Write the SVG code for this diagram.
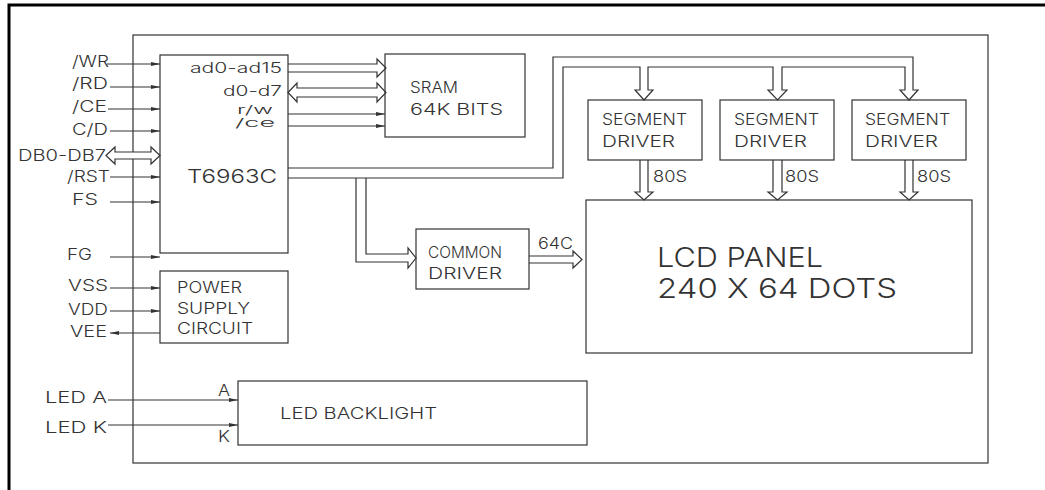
<svg xmlns="http://www.w3.org/2000/svg" width="1045" height="490" viewBox="0 0 1045 490">
<defs>
<style>
.bx{fill:none;stroke:#333;stroke-width:1.2}
.ln{fill:none;stroke:#333;stroke-width:1.2}
.bus{fill:#fff;stroke:#333;stroke-width:1.2;stroke-linejoin:miter}
.t{font-family:Inter,"Liberation Sans",sans-serif;font-weight:300;fill:#333;font-size:16px}
.s{font-size:14px}
.xs{font-size:12px}
.m{font-size:19px}
.l{font-size:27px}
</style>
<marker id="ah" markerUnits="userSpaceOnUse" markerWidth="10" markerHeight="6" refX="9" refY="3" orient="auto">
<path d="M0,1 L9,3 L0,5 Z" fill="#333"/>
</marker>
</defs>
<rect width="1045" height="490" fill="#fff"/>
<path d="M9,490 V5 H1045" fill="none" stroke="#000" stroke-width="3"/>
<rect id="module" x="133" y="35" width="855" height="428" class="bx"/>

<g id="connectors">
<path class="ln" marker-end="url(#ah)" d="M107,64 H160"/>
<path class="ln" marker-end="url(#ah)" d="M110,87 H160"/>
<path class="ln" marker-end="url(#ah)" d="M108,109 H160"/>
<path class="ln" marker-end="url(#ah)" d="M110,131 H160"/>
<path class="bus" d="M106,155.5 L115,147 V152 H151 V147 L160,155.5 L151,164 V159 H115 V164 Z"/>
<path class="ln" marker-end="url(#ah)" d="M110,177 H160"/>
<path class="ln" marker-end="url(#ah)" d="M110,202 H160"/>
<path class="ln" marker-end="url(#ah)" d="M110,257 H160"/>
<path class="ln" marker-end="url(#ah)" d="M110,288 H160"/>
<path class="ln" marker-end="url(#ah)" d="M110,311 H160"/>
<path class="ln" marker-end="url(#ah)" d="M160,333 H110"/>
<path class="ln" marker-end="url(#ah)" d="M108,400 H238"/>
<path class="ln" marker-end="url(#ah)" d="M108,425 H238"/>
<path class="bus" d="M288,64 H377 V59 L386,68 L377,77 V72 H288"/>
<path class="bus" d="M288,92.5 L297,83 V88 H377 V83 L386,92.5 L377,102 V97 H297 V102 Z"/>
<path class="ln" marker-end="url(#ah)" d="M288,114 H385"/>
<path class="ln" marker-end="url(#ah)" d="M288,126 H385"/>
<path class="bus" style="fill:none" d="M288,168 H553 V57 H913 V90 H918 L909,100 L900,90 H905 V67 H782 V90 H787 L777.5,100 L768,90 H773 V67 H648 V90 H653 L644,100 L635,90 H640 V67 H563 V178 H288"/>
<path class="bus" style="fill:none" d="M356,178 V262 H408 V268 L416,258 L408,248 V254 H366 V178"/>
<path class="bus" d="M640,160 V192 H635 L644,200 L653,192 H648 V160"/>
<path class="bus" d="M773,160 V192 H768 L777.5,200 L787,192 H782 V160"/>
<path class="bus" d="M905,160 V192 H900 L909,200 L918,192 H913 V160"/>
<path class="bus" d="M529,256 H573 V251 L582,259.5 L573,268 V263 H529"/>
</g>

<g id="inputs">
<text class="t" x="72" y="67" textLength="37" lengthAdjust="spacingAndGlyphs">/WR</text>
<text class="t" x="72" y="89" textLength="36" lengthAdjust="spacingAndGlyphs">/RD</text>
<text class="t" x="72" y="112" textLength="35" lengthAdjust="spacingAndGlyphs">/CE</text>
<text class="t" x="72" y="135" textLength="36" lengthAdjust="spacingAndGlyphs">C/D</text>
<text class="t" x="18" y="161" textLength="88" lengthAdjust="spacingAndGlyphs">DB0-DB7</text>
<text class="t" x="67" y="182" textLength="43" lengthAdjust="spacingAndGlyphs">/RST</text>
<text class="t" x="72" y="205" textLength="26" lengthAdjust="spacingAndGlyphs">FS</text>
<text class="t" x="67" y="260" textLength="25" lengthAdjust="spacingAndGlyphs">FG</text>
<text class="t" x="68" y="291" textLength="40" lengthAdjust="spacingAndGlyphs">VSS</text>
<text class="t" x="68" y="315" textLength="40" lengthAdjust="spacingAndGlyphs">VDD</text>
<text class="t" x="70" y="337" textLength="37" lengthAdjust="spacingAndGlyphs">VEE</text>
<text class="t" x="45" y="403" textLength="62" lengthAdjust="spacingAndGlyphs">LED A</text>
<text class="t" x="45" y="433" textLength="62" lengthAdjust="spacingAndGlyphs">LED K</text>
</g>

<g id="t6963c">
<rect class="bx" x="160" y="55" width="128" height="198"/>
<text class="t s" x="190" y="73" textLength="92" lengthAdjust="spacingAndGlyphs">ad0-ad15</text>
<text class="t s" x="223" y="96" textLength="59" lengthAdjust="spacingAndGlyphs">d0-d7</text>
<text class="t xs" x="237" y="114" textLength="36" lengthAdjust="spacingAndGlyphs">r/w</text>
<text class="t xs" x="235" y="127" textLength="40" lengthAdjust="spacingAndGlyphs">/ce</text>
<text class="t m" x="187" y="183" textLength="90" lengthAdjust="spacingAndGlyphs">T6963C</text>
</g>

<g id="sram">
<rect class="bx" x="385" y="54" width="140" height="83"/>
<text class="t" x="410" y="93" textLength="48" lengthAdjust="spacingAndGlyphs">SRAM</text>
<text class="t" x="410" y="115" textLength="93" lengthAdjust="spacingAndGlyphs">64K BITS</text>
</g>

<g id="power">
<rect class="bx" x="160" y="271" width="128" height="72"/>
<text class="t" x="177" y="293" textLength="65" lengthAdjust="spacingAndGlyphs">POWER</text>
<text class="t" x="177" y="314" textLength="73" lengthAdjust="spacingAndGlyphs">SUPPLY</text>
<text class="t" x="177" y="334" textLength="76" lengthAdjust="spacingAndGlyphs">CIRCUIT</text>
</g>

<g id="backlight">
<rect class="bx" x="238" y="381" width="349" height="64"/>
<text class="t" x="218" y="396" textLength="12" lengthAdjust="spacingAndGlyphs">A</text>
<text class="t" x="218" y="442" textLength="12" lengthAdjust="spacingAndGlyphs">K</text>
<text class="t" x="280" y="419" textLength="157" lengthAdjust="spacingAndGlyphs">LED BACKLIGHT</text>
</g>

<g id="seg1">
<rect class="bx" x="588" y="100" width="114" height="60"/>
<text class="t" x="602" y="125" textLength="85" lengthAdjust="spacingAndGlyphs">SEGMENT</text>
<text class="t" x="602" y="147" textLength="73" lengthAdjust="spacingAndGlyphs">DRIVER</text>
<text class="t" x="653" y="182" textLength="34" lengthAdjust="spacingAndGlyphs">80S</text>
</g>
<g id="seg2">
<rect class="bx" x="720" y="100" width="114" height="60"/>
<text class="t" x="734" y="125" textLength="85" lengthAdjust="spacingAndGlyphs">SEGMENT</text>
<text class="t" x="734" y="147" textLength="73" lengthAdjust="spacingAndGlyphs">DRIVER</text>
<text class="t" x="785" y="182" textLength="34" lengthAdjust="spacingAndGlyphs">80S</text>
</g>
<g id="seg3">
<rect class="bx" x="852" y="100" width="114" height="60"/>
<text class="t" x="865" y="125" textLength="85" lengthAdjust="spacingAndGlyphs">SEGMENT</text>
<text class="t" x="865" y="147" textLength="73" lengthAdjust="spacingAndGlyphs">DRIVER</text>
<text class="t" x="917" y="182" textLength="34" lengthAdjust="spacingAndGlyphs">80S</text>
</g>

<g id="common">
<rect class="bx" x="416" y="229" width="113" height="60"/>
<text class="t" x="428" y="258" textLength="74" lengthAdjust="spacingAndGlyphs">COMMON</text>
<text class="t" x="428" y="279" textLength="74" lengthAdjust="spacingAndGlyphs">DRIVER</text>
<text class="t" x="538" y="249" textLength="35" lengthAdjust="spacingAndGlyphs">64C</text>
</g>

<g id="lcd">
<rect class="bx" x="586" y="200" width="386" height="153"/>
<text class="t l" x="657" y="267" textLength="166" lengthAdjust="spacingAndGlyphs">LCD PANEL</text>
<text class="t l" x="657" y="298" textLength="240" lengthAdjust="spacingAndGlyphs">240 X 64 DOTS</text>
</g>
</svg>
